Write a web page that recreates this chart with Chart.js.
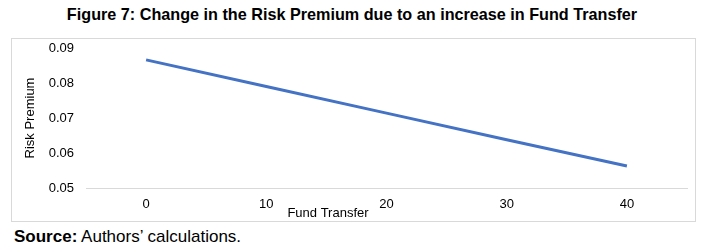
<!DOCTYPE html>
<html>
<head>
<meta charset="utf-8">
<script src="https://cdn.jsdelivr.net/npm/chart.js@4"></script>
<style>
  body { margin: 0; background: #fff; font-family: "Liberation Sans", Arial, sans-serif; }
  #title { position: absolute; left: 0; top: 5px; width: 704px; text-align: center;
           font-weight: bold; font-size: 16.2px; color: #000; }
  #box { position: absolute; left: 11px; top: 38px; width: 683px; height: 182px;
         border: 1px solid #d9d9d9; }
  #source { position: absolute; left: 14px; top: 227px; font-size: 17px; color: #000; }
</style>
</head>
<body>
<div id="title">Figure 7: Change in the Risk Premium due to an increase in Fund Transfer</div>
<div id="box"><canvas id="c" width="683" height="182"></canvas></div>
<div id="source"><b>Source:</b> Authors’ calculations.</div>
<script>
const fundTransfer = ['0', '10', '20', '30', '40'];
const riskPremium = [0.0866, 0.0790, 0.0714, 0.0638, 0.0563];
const yTicks = [0.05, 0.06, 0.07, 0.08, 0.09];

const FONT = '"Liberation Sans", Arial, sans-serif';

// x axis title sits left of centre, overlapping the tick row (as in the source)
const xTitle = {
  id: 'xTitle',
  afterDraw(chart) {
    const ctx = chart.ctx;
    ctx.save();
    ctx.font = '13px ' + FONT;
    ctx.fillStyle = '#000';
    ctx.textAlign = 'center';
    ctx.textBaseline = 'middle';
    ctx.fillText('Fund Transfer', 316, 174);
    ctx.restore();
  }
};

new Chart(document.getElementById('c'), {
  type: 'line',
  data: {
    labels: fundTransfer,
    datasets: [{
      data: riskPremium,
      borderColor: '#4472C4',
      borderWidth: 3,
      pointRadius: 0,
      tension: 0,
      fill: false,
    }]
  },
  plugins: [xTitle],
  options: {
    responsive: false,
    animation: false,
    layout: { padding: { top: 9, right: 8, left: 0, bottom: 0 } },
    plugins: { legend: { display: false }, tooltip: { enabled: false } },
    scales: {
      x: {
        offset: true,
        grid: { display: false, drawTicks: false },
        border: { color: '#d9d9d9', width: 1 },
        ticks: { color: '#000', font: { size: 13, family: FONT }, padding: 9, maxRotation: 0 },
        afterFit(s) { s.height = 33; s.paddingTop = 0; s.paddingBottom = 0; }
      },
      y: {
        min: yTicks[0],
        max: yTicks[yTicks.length - 1],
        afterBuildTicks(s) { s.ticks = yTicks.map(v => ({ value: v })); },
        grid: { display: false, drawTicks: false },
        border: { display: false },
        ticks: {
          color: '#000',
          font: { size: 13, family: FONT },
          padding: 12,
          callback: v => v.toFixed(2)
        },
        title: {
          display: true,
          text: 'Risk Premium',
          color: '#000',
          font: { size: 13, family: FONT },
          padding: { top: 11, bottom: 0 }
        },
        afterFit(s) { s.width = 74; s.paddingTop = 0; s.paddingBottom = 0; }
      }
    }
  }
});
</script>
</body>
</html>
